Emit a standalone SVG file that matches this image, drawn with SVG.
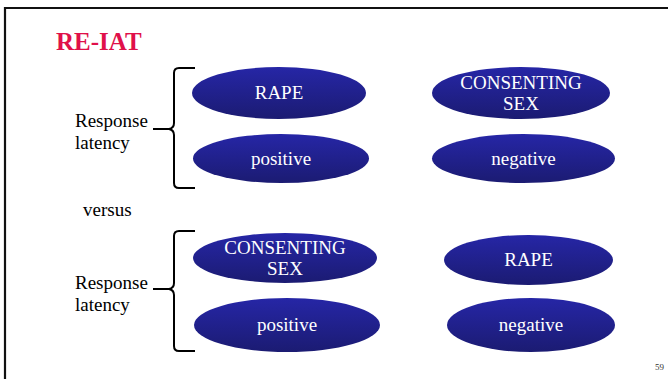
<svg xmlns="http://www.w3.org/2000/svg" width="668" height="379" viewBox="0 0 668 379">
<defs>
<linearGradient id="g" x1="0" y1="0" x2="0" y2="1">
<stop offset="0" stop-color="#2626a6"/>
<stop offset="1" stop-color="#1b1b72"/>
</linearGradient>
</defs>
<style>
.n ellipse{fill:url(#g)}
.n text{fill:#fff;font-family:"Liberation Serif",serif;font-size:19px;text-anchor:middle}
.t{font-family:"Liberation Serif",serif;font-size:19px;fill:#000}
.br{fill:none;stroke:#000;stroke-width:2}
</style>
<rect width="668" height="379" fill="#fff"/>
<path d="M5,379 V8 H668" fill="none" stroke="#111" stroke-width="2.2"/>
<text x="56" y="50" font-family="Liberation Serif,serif" font-size="25" font-weight="bold" fill="#e0104a">RE-IAT</text>
<g id="labels">
<text class="t" x="75" y="127">Response</text>
<text class="t" x="75" y="149">latency</text>
<text class="t" x="83" y="216">versus</text>
<text class="t" x="75" y="289">Response</text>
<text class="t" x="75" y="311">latency</text>
<text x="664" y="370" font-family="Liberation Serif,serif" font-size="9" fill="#333" text-anchor="end">59</text>
</g>
<g id="connectors">
<path class="br" d="M195,68 H179 Q174,68 174,73 V123 Q174,128 169,129 Q174,130 174,135 V183 Q174,188 179,188 H195 M153,129 H169"/>
<path class="br" d="M195,231 H179 Q174,231 174,236 V283 Q174,288 169,289 Q174,290 174,295 V346 Q174,351 179,351 H195 M153,289 H169"/>
</g>
<g id="n1" class="n"><ellipse cx="279" cy="93" rx="87" ry="26"/><text x="279" y="99">RAPE</text></g>
<g id="n2" class="n"><ellipse cx="281" cy="158.5" rx="88" ry="24.5"/><text x="281" y="165">positive</text></g>
<g id="n3" class="n"><ellipse cx="521" cy="93" rx="89" ry="26"/><text x="521" y="89">CONSENTING</text><text x="521" y="110">SEX</text></g>
<g id="n4" class="n"><ellipse cx="523.5" cy="158.5" rx="91.5" ry="24.5"/><text x="523.5" y="165">negative</text></g>
<g id="n5" class="n"><ellipse cx="285" cy="258" rx="92" ry="25"/><text x="285" y="254">CONSENTING</text><text x="285" y="275">SEX</text></g>
<g id="n6" class="n"><ellipse cx="287" cy="325" rx="93" ry="27"/><text x="287" y="331">positive</text></g>
<g id="n7" class="n"><ellipse cx="528.5" cy="260" rx="84.5" ry="25"/><text x="528.5" y="266">RAPE</text></g>
<g id="n8" class="n"><ellipse cx="531" cy="325" rx="84" ry="27"/><text x="531" y="331">negative</text></g>
</svg>
